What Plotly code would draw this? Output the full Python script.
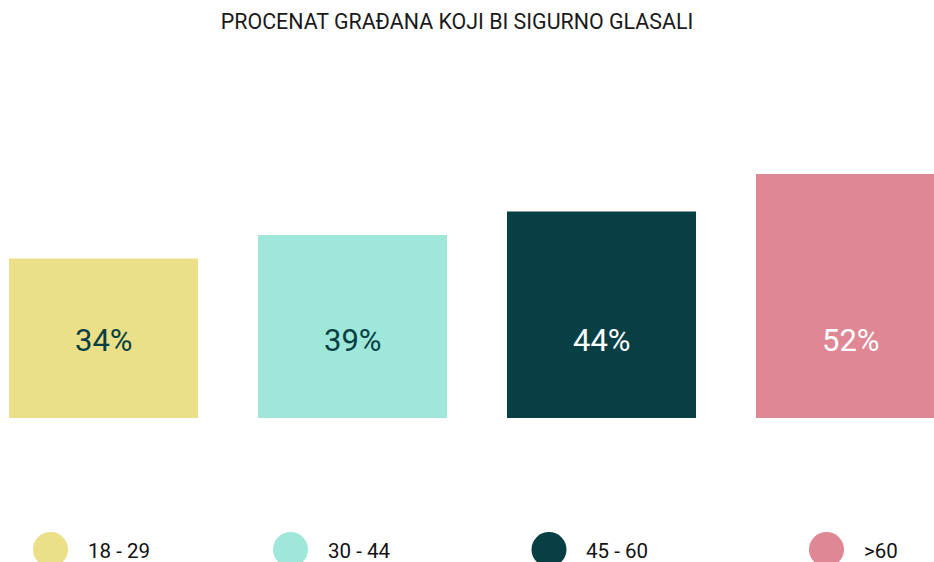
import plotly.graph_objects as go

# ---- data ----
categories = ["18 - 29", "30 - 44", "45 - 60", ">60"]
values = [34, 39, 44, 52]
value_labels = ["34%", "39%", "44%", "52%"]
title_text = "PROCENAT GRAĐANA KOJI BI SIGURNO GLASALI"

# ---- styles ----
bar_colors = ["#EBDF87", "#9FE7D9", "#073F44", "#DF8794"]
label_colors = ["#073F44", "#073F44", "#FFFFFF", "#FFFFFF"]
legend_x = [50.5, 290.5, 549, 826.5]   # legend circle centres (px)
legend_y = 12.5                        # px above bottom edge
label_y = 16.6                         # value-label height (axis units)
W, H = 934, 562
FONT = "Roboto"

fig = go.Figure()

fig.add_trace(go.Bar(
    x=categories, y=values,
    marker=dict(color=bar_colors, line=dict(width=0)),
    width=0.759,
    hoverinfo="skip", showlegend=False,
    xaxis="x", yaxis="y",
))

# legend circles on a pixel-like axis covering the whole figure
fig.add_trace(go.Scatter(
    x=legend_x, y=[legend_y] * len(legend_x),
    mode="markers",
    marker=dict(size=35, color=bar_colors, line=dict(width=0)),
    hoverinfo="skip", showlegend=False,
    xaxis="x2", yaxis="y2", cliponaxis=False,
))

annotations = []
for c, lab, col in zip(categories, value_labels, label_colors):
    annotations.append(dict(
        x=c, y=label_y, xref="x", yref="y", text=lab, showarrow=False,
        font=dict(family=FONT, size=31, color=col),
        xanchor="center", yanchor="middle",
    ))
for lx, c in zip(legend_x, categories):
    annotations.append(dict(
        x=lx + 35, y=legend_y - 1.5, xref="x2", yref="y2", text=c, showarrow=False,
        font=dict(family=FONT, size=20.5, color="#111111"),
        xanchor="left", yanchor="middle",
    ))

r0 = -103.5 / 249.0
fig.update_layout(
    width=W, height=H,
    margin=dict(l=0, r=0, t=0, b=0),
    paper_bgcolor="white", plot_bgcolor="rgba(0,0,0,0)",
    title=dict(text=title_text, x=457 / W, xanchor="center",
               y=1 - 22 / H, yanchor="middle",
               font=dict(family=FONT, size=21.4, color="#1A1A1A")),
    xaxis=dict(type="category", range=[r0, r0 + W / 249.0], domain=[0, 1],
               anchor="y",
               showgrid=False, zeroline=False, showticklabels=False,
               showline=False, ticks="", fixedrange=True),
    yaxis=dict(range=[0, 418 / 4.693], domain=[(H - 418) / H, 1],
               anchor="x",
               showgrid=False, zeroline=False, showticklabels=False,
               showline=False, ticks="", fixedrange=True),
    xaxis2=dict(range=[0, W], domain=[0, 1], anchor="y2",
                visible=False, fixedrange=True),
    yaxis2=dict(range=[0, H], domain=[0, 1], anchor="x2",
                visible=False, fixedrange=True),
    annotations=annotations,
    font=dict(family=FONT),
)

fig.write_html("out.html", config={"displayModeBar": False},
               post_script="document.body.style.margin='0px';")
